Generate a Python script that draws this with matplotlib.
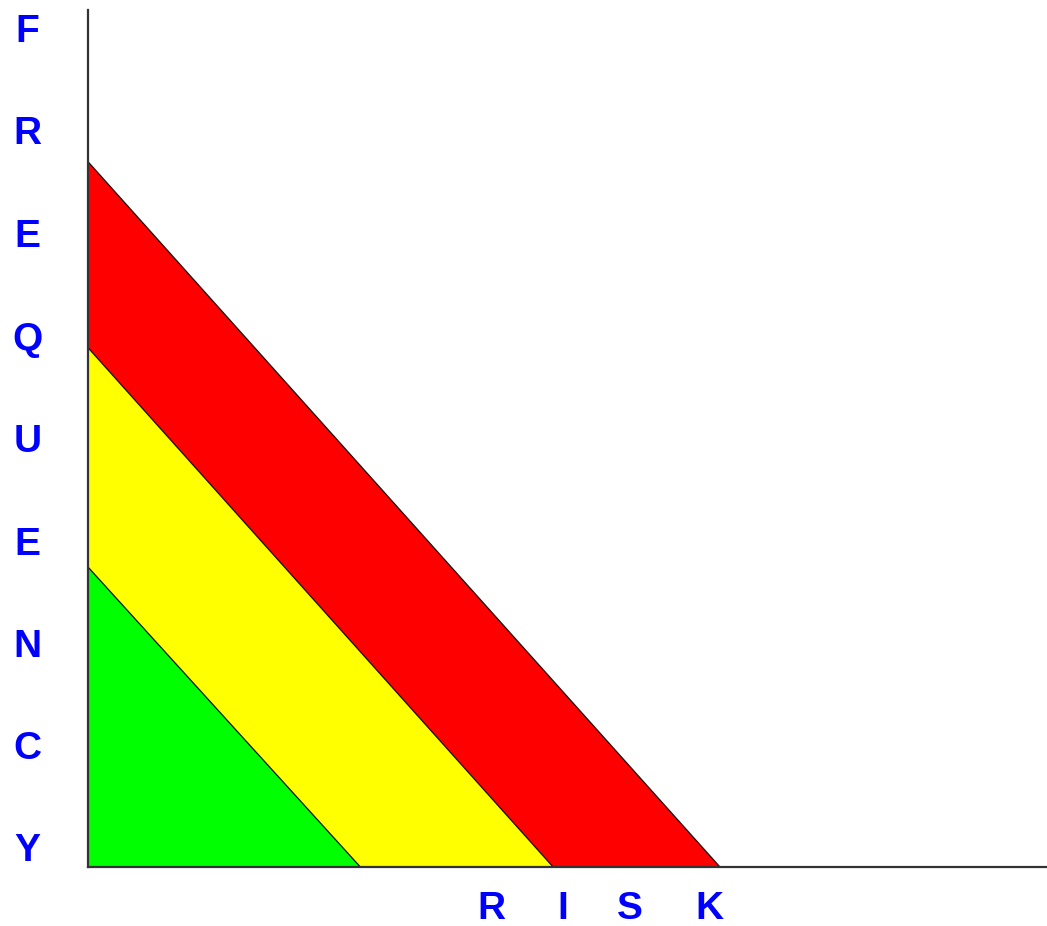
import matplotlib

matplotlib.use("Agg")
import matplotlib.pyplot as plt

# zone intercepts (x on risk axis, y on frequency axis), outermost first
zone_names = ["high", "medium", "low"]
zone_x = [65.9, 48.5, 28.4]
zone_y = [82.3, 60.6, 35.0]
zone_colors = ["#ff0000", "#ffff00", "#00ff00"]

freq_letters = list("FREQUENCY")
freq_y = [97.9, 86.0, 74.0, 62.0, 50.1, 38.0, 26.1, 14.2, 2.3]
risk_letters = list("RISK")
risk_x = [42.1, 49.5, 56.5, 64.8]

fig = plt.figure(figsize=(10.47, 9.26), dpi=100)
ax = fig.add_axes([88 / 1047, 59 / 926, 959 / 1047, 857 / 926])
ax.set_xlim(0, 100)
ax.set_ylim(0, 100)

for name, xi, yi, color in zip(zone_names, zone_x, zone_y, zone_colors):
    ax.fill([0, xi, 0], [0, 0, yi], facecolor=color, edgecolor="#111111", linewidth=0.9, label=name)

for spine in ("top", "right"):
    ax.spines[spine].set_visible(False)
for spine in ("left", "bottom"):
    ax.spines[spine].set_color("#333333")
    ax.spines[spine].set_linewidth(1.6)
    ax.spines[spine].set_zorder(5)
ax.set_xticks([])
ax.set_yticks([])

text_style = dict(color="#0000ff", fontsize=28, fontweight="bold",
                  family="Liberation Sans", ha="center", va="center_baseline", clip_on=False)
for letter, y in zip(freq_letters, freq_y):
    ax.text(-6.3, y, letter, **text_style)
for letter, x in zip(risk_letters, risk_x):
    ax.text(x, -4.4, letter, **text_style)

fig.savefig("out.png", dpi=100)
plt.close(fig)
